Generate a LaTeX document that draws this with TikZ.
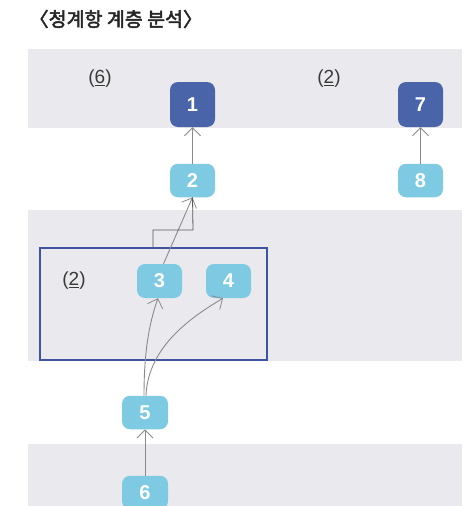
\documentclass[tikz,border=0pt]{standalone}
\usepackage{fontspec}
\setmainfont{Liberation Sans}
\newfontfamily\krfont{Noto Sans CJK KR}[FakeBold=2.5]
\usetikzlibrary{arrows.meta}
\definecolor{bandgray}{HTML}{EAEAEE}
\definecolor{darkblue}{HTML}{4A64AA}
\definecolor{lightblue}{HTML}{7DCAE2}
\definecolor{boxblue}{HTML}{3D55A0}
\definecolor{arrgray}{HTML}{8A8A8A}
\definecolor{txtgray}{HTML}{3A3A3A}
\tikzset{
  band/.style={fill=bandgray, draw=none},
  nbox/.style={rounded corners=8pt, draw=none, text=white, font=\bfseries\fontsize{20}{20}\selectfont, inner sep=0pt, minimum width=45pt},
  topbox/.style={nbox, fill=darkblue, minimum height=45pt},
  subbox/.style={nbox, fill=lightblue, minimum height=33.5pt},
  conn/.style={draw=arrgray, line width=0.9pt, -{Straight Barb[length=8pt,width=16pt,line width=0.8pt]}},
  elbow/.style={draw=black!65, line width=0.8pt},
  grp/.style={draw=boxblue, line width=1.1pt},
  cnt/.style={text=txtgray, font=\fontsize{19}{19}\selectfont, inner sep=0pt}
}
\begin{document}
\begin{tikzpicture}[x=1pt,y=-1pt]
\useasboundingbox (0,0) rectangle (470,506);
% bands
\fill[band] (28,49) rectangle (462,128);
\fill[band] (28,210) rectangle (462,361);
\fill[band] (28,444) rectangle (462,506);
% title
\node[anchor=west, inner sep=0pt, text=black!85, font=\krfont\fontsize{19.5}{19.5}\selectfont] (title) at (29,19) {〈청계항 계층 분석〉};
% group box
\node[grp, minimum width=227pt, minimum height=112pt, inner sep=0pt] (grp) at (153.5,304) {};
% counts
\node[cnt] (c6) at (100,79) {(\underline{6})};
\node[cnt] (c2a) at (329,79) {(\underline{2})};
\node[cnt] (c2b) at (74,281) {(\underline{2})};
% nodes
\node[topbox] (n1) at (192.5,104.5) {1};
\node[subbox] (n2) at (192.5,180.5) {2};
\node[topbox] (n7) at (420.5,104.5) {7};
\node[subbox] (n8) at (420.5,180.5) {8};
\node[subbox, minimum height=34pt] (n3) at (159.5,281) {3};
\node[subbox, minimum height=34pt] (n4) at (228.5,281) {4};
\node[subbox, minimum width=46pt] (n5) at (145,412.5) {5};
\node[subbox, minimum width=46pt] (n6) at (145,492.5) {6};
% connectors
\draw[conn] (n2) -- (n1);
\draw[conn] (n8) -- (n7);
\draw[conn] (n6) -- (n5);
\draw[conn] ([xshift=4pt]n3.north) -- (n2.south);
\draw[elbow] (grp.north -| 153,0) |- (193,230) -- (n2.south);
\draw[conn] ([xshift=-1pt]n5.north) .. controls (144,345) and (151,318) .. ([xshift=-1.5pt]n3.south);
\draw[conn] ([xshift=1pt]n5.north) .. controls (148,345) and (195,315) .. ([xshift=-5.5pt]n4.south);
\end{tikzpicture}
\end{document}
